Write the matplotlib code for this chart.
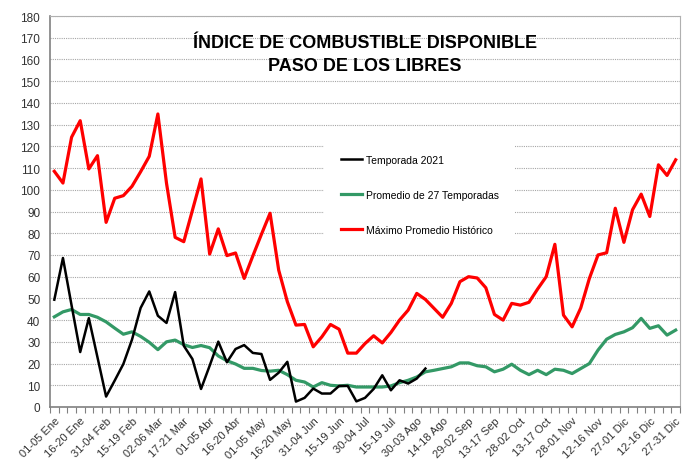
import numpy as np
import matplotlib.pyplot as plt

# etiquetas del eje x (cada 3 pentadas)
periodos = ["01-05 Ene", "16-20 Ene", "31-04 Feb", "15-19 Feb", "02-06 Mar", "17-21 Mar",
            "01-05 Abr", "16-20 Abr", "01-05 May", "16-20 May", "31-04 Jun", "15-19 Jun",
            "30-04 Jul", "15-19 Jul", "30-03 Ago", "14-18 Ago", "29-02 Sep", "13-17 Sep",
            "28-02 Oct", "13-17 Oct", "28-01 Nov", "12-16 Nov", "27-01 Dic", "12-16 Dic",
            "27-31 Dic"]

# Temporada 2021 (hasta agosto)
temporada_2021 = [49.4, 68.6, 46.8, 25.3, 40.9, 22.9, 4.8, 12.2, 19.8, 31, 45.6, 53.2, 42,
                  38.7, 52.9, 28.2, 22.1, 8.3, 19, 30.1, 20.6, 26.7, 28.5, 24.9, 24.4,
                  12.5, 15.8, 20.8, 2.5, 4.2, 8.5, 6.2, 6.2, 9.7, 9.7, 2.6, 4.2,
                  8.3, 14.6, 7.7, 12.3, 10.8, 13.1, 17.7]

# Promedio de 27 temporadas
promedio_27 = [41.5, 43.8, 44.9, 42.6, 42.6, 41.3, 39.2, 36.3, 33.5, 34.6, 32.5, 29.8, 26.4,
               30, 30.8, 28.7, 27.4, 28.3, 27.3, 23.5, 21.3, 19.8, 17.8, 17.8, 16.8,
               16.5, 16.9, 14.9, 12.3, 11.5, 9.2, 11.2, 10, 9.7, 10, 9.2, 9.2,
               9.2, 9.2, 9.7, 11.2, 12.3, 13.8, 16.2, 16.9, 17.7, 18.5, 20.3, 20.3, 19,
               18.5, 16.2, 17.4, 19.7, 16.9, 14.9, 16.9, 14.9, 17.4, 16.9, 15.4, 17.7,
               20, 26.2, 31.2, 33.4, 34.6, 36.5, 40.8, 36.2, 37.4, 33.1, 35.4]

# Maximo promedio historico
maximo_hist = [108.5, 103.1, 124.2, 131.8, 109.6, 115.7, 85.0, 96.1, 97.3, 101.6, 108.3, 115.4, 134.9,
               103, 78.1, 76.1, 90.5, 105, 70.4, 82, 69.7, 70.9, 59.2, 69.5, 79.5,
               89.2, 63, 48.5, 37.7, 38, 27.7, 32.3, 38, 35.8, 24.8, 24.8, 29.2,
               32.8, 29.5, 34.3, 40, 44.6, 52.3, 49.5, 45.4, 41.3, 47.7, 57.7, 60, 59.4,
               54.9, 42.6, 40, 47.7, 46.9, 48.2, 54.3, 60, 74.9, 42.3, 36.9, 45.6,
               59.2, 70, 71, 91.5, 75.8, 90.8, 98, 87.7, 111.5, 106.6, 113.8]

plt.rcParams["font.family"] = ["Liberation Sans", "DejaVu Sans"]

n = len(maximo_hist)
x = np.arange(n)

fig = plt.figure(figsize=(6.82, 4.77), dpi=100)
ax = fig.add_axes([50/682, 69/477, 630/682, 391/477])

ax.plot(x, maximo_hist, color="#ff0000", lw=2.3, label="Máximo Promedio Histórico", zorder=3)
ax.plot(x, promedio_27, color="#339966", lw=2.3, label="Promedio de 27 Temporadas", zorder=4)
ax.plot(x[:len(temporada_2021)], temporada_2021, color="black", lw=1.8,
        label="Temporada 2021", zorder=5)

ax.set_xlim(-0.5, n - 0.5)
ax.set_ylim(0, 180)
ax.set_yticks(np.arange(0, 181, 10))
ax.grid(axis="y", color="#a6a6a6", lw=0.8, linestyle=(0, (1, 1)))
ax.set_axisbelow(True)

ax.set_xticks(np.arange(0, n, 3))
ax.set_xticklabels(periodos, rotation=45, ha="right", va="top", rotation_mode="anchor",
                   fontsize=8, color="#333333")
ax.set_xticks(np.arange(-0.5, n, 1), minor=True)
ax.tick_params(axis="x", which="major", length=0, pad=6)
ax.tick_params(axis="x", which="minor", length=4, color="#808080", width=0.8)
ax.tick_params(axis="y", length=0, pad=7, labelsize=8.5, labelcolor="#333333")

for s in ["top", "right"]:
    ax.spines[s].set_color("#b0b0b0")
for s in ["left", "bottom"]:
    ax.spines[s].set_color("#808080")
    ax.spines[s].set_linewidth(1.2)

ax.text(0.5, 0.903, "ÍNDICE DE COMBUSTIBLE DISPONIBLE\nPASO DE LOS LIBRES",
        transform=ax.transAxes, ha="center", va="center", fontsize=13, fontweight="bold",
        linespacing=1.5)

h, l = ax.get_legend_handles_labels()
leg = ax.legend(h[::-1], l[::-1], loc="upper left", bbox_to_anchor=(0.435, 0.687),
                fontsize=7.5, frameon=True, facecolor="white", edgecolor="none",
                framealpha=1, labelspacing=2.4, handlelength=2.0, handletextpad=0.4,
                borderpad=1.6, borderaxespad=0)
leg.set_zorder(2)

fig.savefig("out.png", dpi=100)
